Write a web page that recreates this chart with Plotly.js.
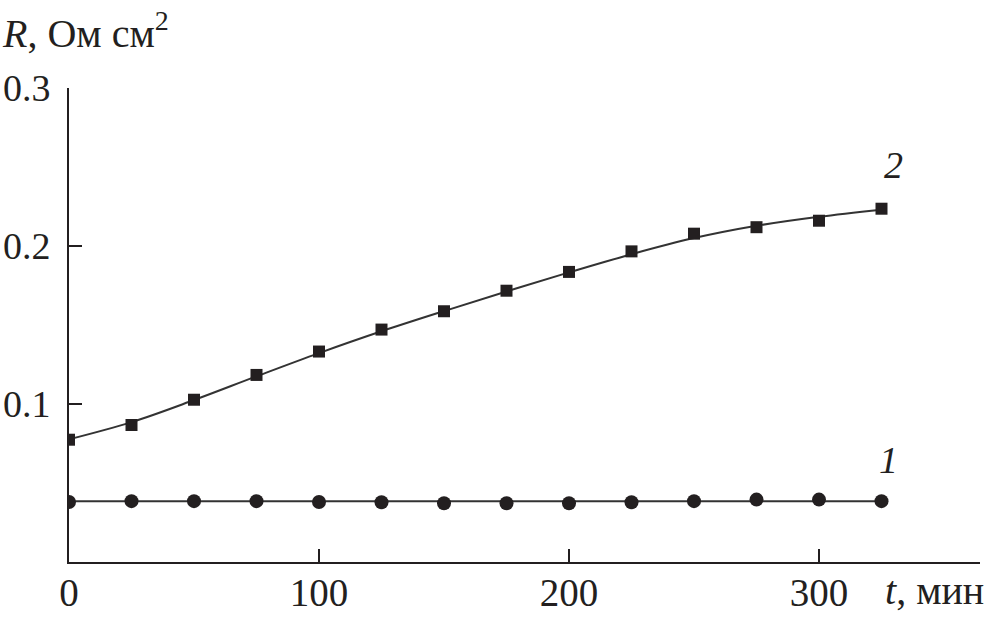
<!DOCTYPE html>
<html>
<head>
<meta charset="utf-8">
<script src="https://cdn.plot.ly/plotly-3.0.1.min.js"></script>
<style>html,body{margin:0;padding:0;background:#fff;}#chart{width:996px;height:621px;}</style>
</head>
<body>
<div id="chart"></div>
<script>
// time, min
var tMin = [0, 25, 50, 75, 100, 125, 150, 175, 200, 225, 250, 275, 300, 325];
// curve 1 (circles), R, Ohm cm^2
var r1 = [0.0380, 0.0385, 0.0385, 0.0385, 0.0380, 0.0378, 0.0372, 0.0372, 0.0372, 0.0378, 0.0385, 0.0395, 0.0395, 0.0385];
// curve 2 (squares)
var r2 = [0.0774, 0.0867, 0.1027, 0.1184, 0.1332, 0.1471, 0.1587, 0.1717, 0.1836, 0.1966, 0.2078, 0.2119, 0.2160, 0.2236];
// smooth fitted curves
var fit1X = [0, 325];
var fit1Y = [0.0384, 0.0384];
var fit2X = [0, 25, 50, 75, 100, 125, 150, 175, 200, 225, 250, 275, 300, 325];
var fit2Y = [0.0776, 0.0885, 0.1025, 0.1175, 0.1322, 0.1460, 0.1588, 0.1712, 0.1833, 0.1948, 0.2050, 0.2128, 0.2185, 0.2230];
var xTicks = [0, 100, 200, 300];
var yTicks = [0.1, 0.2, 0.3];

var ink = '#231f20';
var font = 'Liberation Serif';

var traces = [
  {x: fit1X, y: fit1Y, mode: 'lines', line: {color: '#333', width: 2}, hoverinfo: 'skip'},
  {x: fit2X, y: fit2Y, mode: 'lines', line: {color: '#333', width: 2, shape: 'spline', smoothing: 1}, hoverinfo: 'skip'},
  {x: tMin, y: r1, mode: 'markers', marker: {symbol: 'circle', size: 14, color: ink}},
  {x: tMin, y: r2, mode: 'markers', marker: {symbol: 'square', size: 12, color: ink}}
];

var layout = {
  width: 996, height: 621,
  margin: {l: 69, r: 16, t: 88, b: 59},
  paper_bgcolor: '#fff', plot_bgcolor: '#fff',
  showlegend: false,
  font: {family: font, size: 38, color: ink},
  xaxis: {
    range: [0, 364.4], tickvals: xTicks, ticktext: xTicks.map(String),
    ticks: 'inside', ticklen: 13, tickwidth: 2, tickcolor: ink,
    showline: true, linecolor: ink, linewidth: 2, showgrid: false, zeroline: false,
    ticklabelstandoff: -5, tickfont: {family: font, size: 39, color: ink}
  },
  yaxis: {
    range: [0, 0.3], tickvals: yTicks, ticktext: ['0.1', '0.2', '0.3'],
    ticks: 'inside', ticklen: 13, tickwidth: 2, tickcolor: ink,
    showline: true, linecolor: ink, linewidth: 2, showgrid: false, zeroline: false,
    ticklabelstandoff: 9, tickfont: {family: font, size: 38, color: ink}
  },
  annotations: [
    {xref: 'paper', yref: 'paper', x: -0.076, y: 1.121, xanchor: 'left', yanchor: 'middle',
     text: '<i>R</i>, Ом см<sup>2</sup>', showarrow: false, font: {family: font, size: 40, color: ink}},
    {xref: 'paper', yref: 'paper', x: 0.893, y: -0.06, xanchor: 'left', yanchor: 'middle',
     text: '<i>t</i>, мин', showarrow: false, font: {family: font, size: 40, color: ink}},
    {xref: 'x', yref: 'y', x: 329.6, y: 0.251, text: '<i>2</i>', showarrow: false,
     font: {family: font, size: 38, color: ink}},
    {xref: 'x', yref: 'y', x: 327.8, y: 0.0645, text: '<i>1</i>', showarrow: false,
     font: {family: font, size: 38, color: ink}}
  ]
};

Plotly.newPlot('chart', traces, layout, {displayModeBar: false, staticPlot: true});
</script>
</body>
</html>
